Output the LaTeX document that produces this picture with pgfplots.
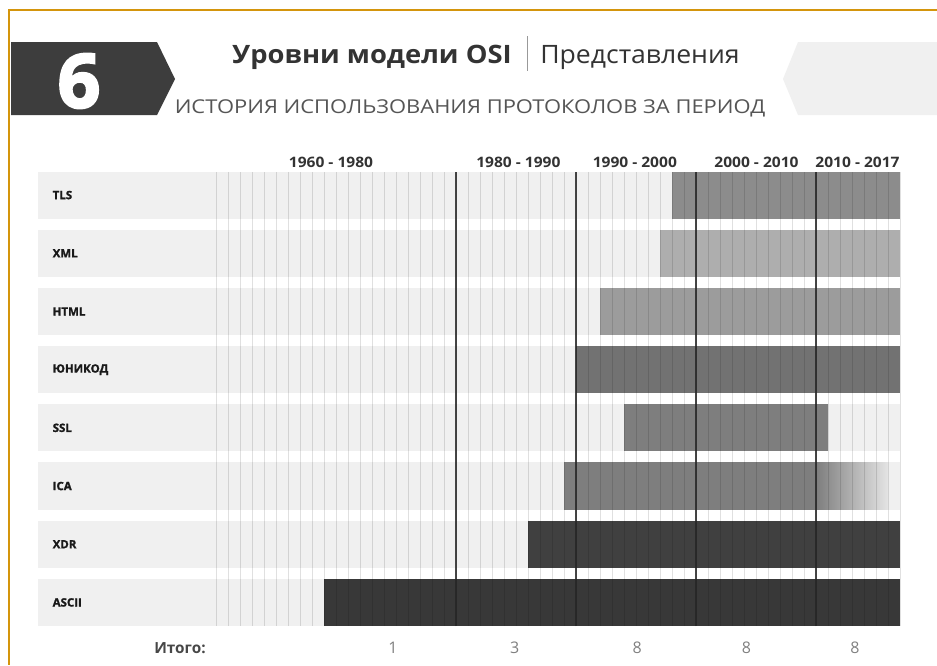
\documentclass[border=0pt]{standalone}
\usepackage{pgfplots}
\pgfplotsset{compat=1.18}
\usepackage{fontspec}
\setmainfont{Open Sans}

\definecolor{frame}{HTML}{D4950C}
\definecolor{badge}{HTML}{3D3D3D}
\definecolor{band}{HTML}{F0F0F0}
\definecolor{titletext}{HTML}{333333}
\definecolor{subtext}{HTML}{555555}
\definecolor{cTLS}{HTML}{8C8C8C}
\definecolor{cXML}{HTML}{AEAEAE}
\definecolor{cHTML}{HTML}{9C9C9C}
\definecolor{cUNI}{HTML}{727272}
\definecolor{cSSL}{HTML}{7E7E7E}
\definecolor{cICA}{HTML}{7E7E7E}
\definecolor{cXDR}{HTML}{404040}
\definecolor{cASCII}{HTML}{383838}

\newcommand\heavy{\bfseries\addfontfeature{FakeBold=1.5}}

\begin{document}
\begin{tikzpicture}[x=0.75pt,y=-0.75pt]
% page
\fill[white] (0,0) rectangle (937,665);
\path[use as bounding box] (0,0) rectangle (937,665);
\draw[frame, line width=1.4pt] (8,10) -- (937,10);
\draw[frame, line width=1.4pt] (9,10) -- (9,665);

% chapter badge
\fill[badge] (11,42) -- (157,42) -- (175,79) -- (157,115) -- (11,115) -- cycle;
\node[white, font=\fontsize{56}{56}\selectfont\bfseries\addfontfeature{FakeBold=3}] at (79,81) {6};
% right ribbon
\fill[band] (798,42) -- (937,42) -- (937,115) -- (798,115) -- (783,79) -- cycle;

% headings
\node[anchor=base east, inner sep=0pt, text=titletext, xscale=1.08,
      font=\fontsize{19}{19}\selectfont\bfseries] at (512,63) {Уровни модели OSI};
\draw[black!40, line width=0.6pt] (527,36) -- (527,71);
\node[anchor=base west, inner sep=0pt, text=titletext, xscale=1.05,
      font=\fontsize{19}{19}\selectfont] at (540,63) {Представления};
\node[anchor=base, inner sep=0pt, text=subtext, xscale=1.15,
      font=\fontsize{14.3}{14.3}\selectfont] at (470,113) {ИСТОРИЯ ИСПОЛЬЗОВАНИЯ ПРОТОКОЛОВ ЗА ПЕРИОД};

\begin{axis}[
  at={(162pt,-469.5pt)}, anchor=south west,
  scale only axis, width=513pt, height=340.875pt,
  xmin=1960, xmax=2017, ymin=0, ymax=7.81,
  axis line style={draw=none}, tick style={draw=none},
  xtick={1960,...,2017}, xticklabels={}, ytick=\empty,
  xmajorgrids, major grid style={black, opacity=0.12, line width=0.5pt},
  extra x ticks={1980,1990,2000,2010}, extra x tick labels={},
  extra x tick style={grid=major, major grid style={black!85, opacity=0.85, line width=1.1pt}},
  axis on top, clip=false,
  every node/.style={inner sep=0pt},
]
% row bands (label column + timeline)
\addplot[fill=band, draw=none] coordinates {(1945.17,0) (2017,0) (2017,0.81) (1945.17,0.81)};
\addplot[fill=band, draw=none] coordinates {(1945.17,1) (2017,1) (2017,1.81) (1945.17,1.81)};
\addplot[fill=band, draw=none] coordinates {(1945.17,2) (2017,2) (2017,2.81) (1945.17,2.81)};
\addplot[fill=band, draw=none] coordinates {(1945.17,3) (2017,3) (2017,3.81) (1945.17,3.81)};
\addplot[fill=band, draw=none] coordinates {(1945.17,4) (2017,4) (2017,4.81) (1945.17,4.81)};
\addplot[fill=band, draw=none] coordinates {(1945.17,5) (2017,5) (2017,5.81) (1945.17,5.81)};
\addplot[fill=band, draw=none] coordinates {(1945.17,6) (2017,6) (2017,6.81) (1945.17,6.81)};
\addplot[fill=band, draw=none] coordinates {(1945.17,7) (2017,7) (2017,7.81) (1945.17,7.81)};

% protocol lifetimes: start year -- end year
\addplot[fill=cTLS,   draw=none] coordinates {(1998,7) (2017,7) (2017,7.81) (1998,7.81)};
\addplot[fill=cXML,   draw=none] coordinates {(1997,6) (2017,6) (2017,6.81) (1997,6.81)};
\addplot[fill=cHTML,  draw=none] coordinates {(1992,5) (2017,5) (2017,5.81) (1992,5.81)};
\addplot[fill=cUNI,   draw=none] coordinates {(1990,4) (2017,4) (2017,4.81) (1990,4.81)};
\addplot[fill=cSSL,   draw=none] coordinates {(1994,3) (2011,3) (2011,3.81) (1994,3.81)};
\addplot[fill=cICA,   draw=none] coordinates {(1989,2) (2010,2) (2010,2.81) (1989,2.81)};
\addplot[draw=none, left color=cICA, right color=band!95!black] coordinates {(2010,2) (2016,2) (2016,2.81) (2010,2.81)};
\addplot[fill=cXDR,   draw=none] coordinates {(1986,1) (2017,1) (2017,1.81) (1986,1.81)};
\addplot[fill=cASCII, draw=none] coordinates {(1969,0) (2017,0) (2017,0.81) (1969,0.81)};

% row labels
\begin{scope}[font=\fontsize{8.6}{8.6}\selectfont\heavy, text=black!90]
\node[anchor=west] at (axis cs:1946.0,7.405) {TLS};
\node[anchor=west] at (axis cs:1946.0,6.405) {XML};
\node[anchor=west] at (axis cs:1946.0,5.405) {HTML};
\node[anchor=west] at (axis cs:1946.0,4.405) {ЮНИКОД};
\node[anchor=west] at (axis cs:1946.0,3.405) {SSL};
\node[anchor=west] at (axis cs:1946.0,2.405) {ICA};
\node[anchor=west] at (axis cs:1946.0,1.405) {XDR};
\node[anchor=west] at (axis cs:1946.0,0.405) {ASCII};
\end{scope}

% period headers
\begin{scope}[font=\fontsize{10.8}{10.8}\selectfont\bfseries, text=titletext]
\node[anchor=base, xscale=1.08] at (axis cs:1969.58,7.887) {1960 - 1980};
\node[anchor=base, xscale=1.08] at (axis cs:1985.2,7.887) {1980 - 1990};
\node[anchor=base, xscale=1.08] at (axis cs:1994.9,7.887) {1990 - 2000};
\node[anchor=base, xscale=1.08] at (axis cs:2005.04,7.887) {2000 - 2010};
\node[anchor=base, xscale=1.08] at (axis cs:2013.46,7.887) {2010 - 2017};
\end{scope}

% totals per period
\node[anchor=base, text=titletext!90, font=\fontsize{11.5}{11.5}\selectfont\bfseries] at (axis cs:1957.0,-0.464) {Итого:};
\begin{scope}[font=\fontsize{12}{12}\selectfont, text=black!50]
\node[anchor=base] at (axis cs:1974.75,-0.464) {1};
\node[anchor=base] at (axis cs:1984.9,-0.464) {3};
\node[anchor=base] at (axis cs:1995.1,-0.464) {8};
\node[anchor=base] at (axis cs:2004.2,-0.464) {8};
\node[anchor=base] at (axis cs:2013.25,-0.464) {8};
\end{scope}
\end{axis}
\end{tikzpicture}
\end{document}
